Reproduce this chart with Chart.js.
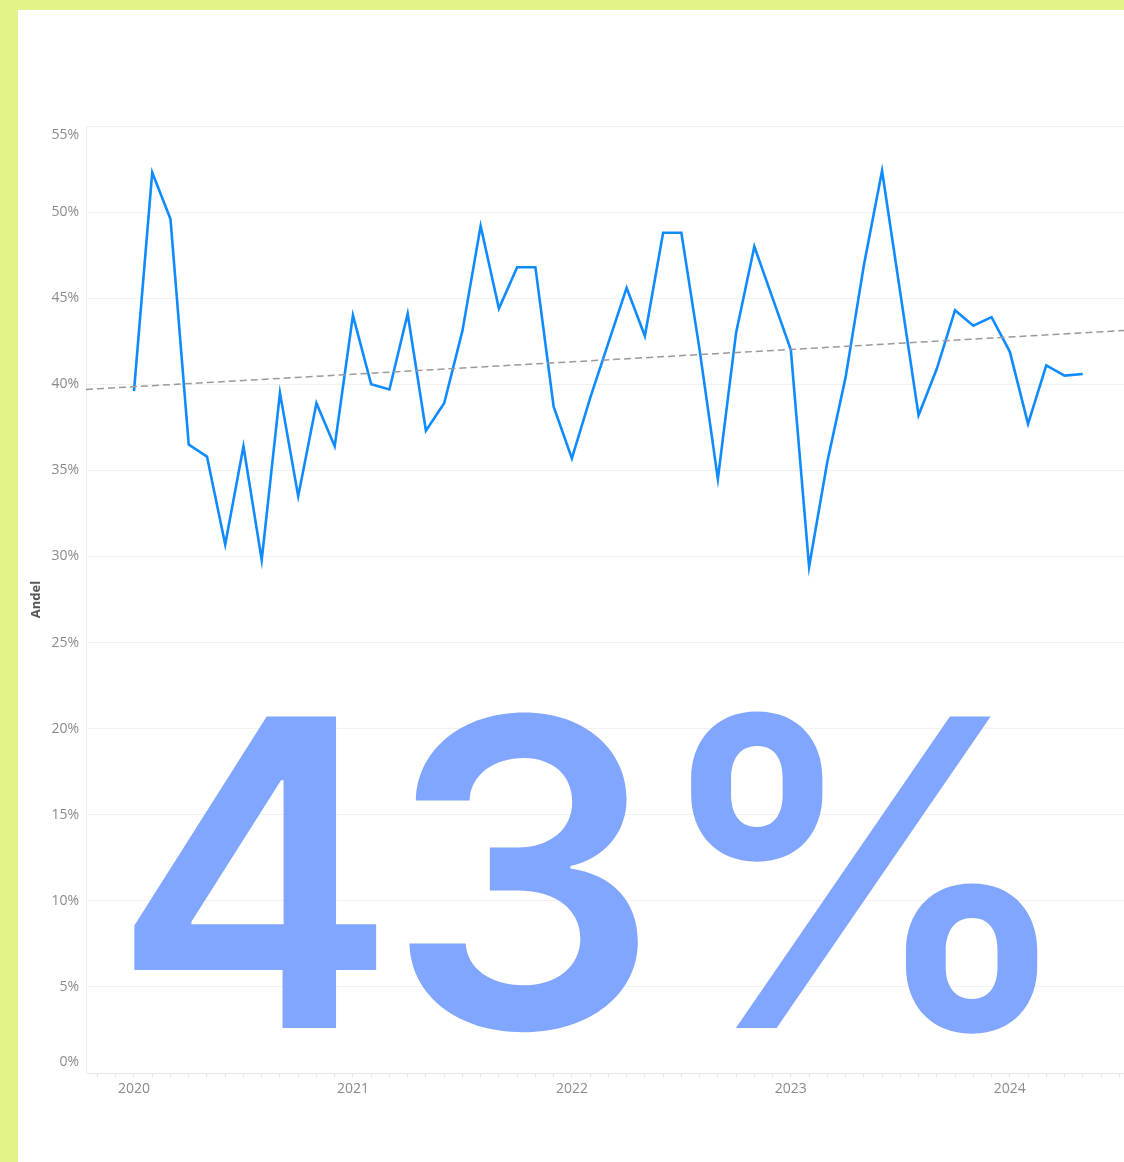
<!DOCTYPE html>
<html>
<head>
<meta charset="utf-8">
<script src="https://cdn.jsdelivr.net/npm/chart.js@4.4.1/dist/chart.umd.min.js"></script>
<style>
  html, body { margin: 0; padding: 0; width: 1124px; height: 1162px; overflow: hidden; background: #e4f388; }
  #panel { position: absolute; left: 18px; top: 10px; width: 1160px; height: 1152px; background: #fff; }
  #panel canvas { display: block; }
</style>
</head>
<body>
<div id="panel"><canvas id="chart" width="1160" height="1152"></canvas></div>
<script>
// monthly share, Jan 2020 .. May 2024
var months = [
  '2020-01','2020-02','2020-03','2020-04','2020-05','2020-06','2020-07','2020-08','2020-09','2020-10','2020-11','2020-12',
  '2021-01','2021-02','2021-03','2021-04','2021-05','2021-06','2021-07','2021-08','2021-09','2021-10','2021-11','2021-12',
  '2022-01','2022-02','2022-03','2022-04','2022-05','2022-06','2022-07','2022-08','2022-09','2022-10','2022-11','2022-12',
  '2023-01','2023-02','2023-03','2023-04','2023-05','2023-06','2023-07','2023-08','2023-09','2023-10','2023-11','2023-12',
  '2024-01','2024-02','2024-03','2024-04','2024-05'
];
var andel = [
  39.6, 52.3, 49.6, 36.5, 35.8, 30.7, 36.4, 29.8, 39.5, 33.5, 38.9, 36.4,
  44.0, 40.0, 39.7, 44.1, 37.3, 38.9, 43.1, 49.2, 44.4, 46.8, 46.8, 38.7,
  35.7, 39.2, 42.4, 45.6, 42.8, 48.8, 48.8, 42.0, 34.5, 43.0, 48.0, 45.0,
  42.0, 29.4, 35.5, 40.4, 46.9, 52.4, 45.3, 38.2, 40.9, 44.3, 43.4, 43.9,
  41.9, 37.7, 41.1, 40.5, 40.6
];
// trend line ends (months from Jan 2020, percent)
var trendMonths = [-2.63, 57.2];
var trendValues = [39.7, 43.3];
var yTicks = [0, 5, 10, 15, 20, 25, 30, 35, 40, 45, 50, 55];
var headline = '43%';

var baseYear = 2020;
function monthIndex(s) {
  var p = s.split('-');
  return (parseInt(p[0], 10) - baseYear) * 12 + parseInt(p[1], 10) - 1;
}

var series = months.map(function(m, i) { return { x: monthIndex(m), y: andel[i] }; });
var trend = trendMonths.map(function(m, i) { return { x: m, y: trendValues[i] }; });

var tickFont = { family: 'Open Sans', size: 14 };
var tickColor = '#8a8a8a';

// y labels drawn by hand so the end labels stay inside the plot
var yLabels = {
  id: 'yLabels',
  afterDraw: function(chart) {
    var s = chart.scales.y, ctx = chart.ctx;
    ctx.save();
    ctx.font = tickFont.size + 'px ' + tickFont.family;
    ctx.fillStyle = tickColor;
    ctx.textAlign = 'right';
    ctx.textBaseline = 'middle';
    yTicks.forEach(function(v) {
      var y = s.getPixelForValue(v);
      y = Math.max(s.top + 9, Math.min(s.bottom - 11, y));
      ctx.fillText(v + '%', s.right - 7, y);
    });
    ctx.restore();
  }
};

var bigNumber = {
  id: 'bigNumber',
  afterDraw: function(chart) {
    var ctx = chart.ctx;
    ctx.save();
    ctx.font = '600 428px Inter';
    ctx.letterSpacing = '-10px';
    ctx.fillStyle = '#80a6ff';
    ctx.textBaseline = 'alphabetic';
    ctx.textAlign = 'left';
    ctx.fillText(headline, 94, 1018);
    ctx.restore();
  }
};

new Chart(document.getElementById('chart'), {
  type: 'line',
  data: {
    datasets: [
      {
        label: 'Trend',
        data: trend,
        borderColor: '#9a9a9a',
        borderWidth: 1.5,
        borderDash: [7, 4],
        pointRadius: 0,
        order: 0
      },
      {
        label: 'Andel',
        data: series,
        borderColor: '#0f8bff',
        borderWidth: 2.6,
        pointRadius: 0,
        tension: 0,
        order: 1
      }
    ]
  },
  options: {
    responsive: false,
    animation: false,
    layout: { padding: { top: 116, left: 0, right: 0, bottom: 0 } },
    plugins: { legend: { display: false }, tooltip: { enabled: false } },
    scales: {
      x: {
        type: 'linear',
        min: trendMonths[0],
        max: trendMonths[1],
        afterBuildTicks: function(s) {
          var t = [];
          for (var m = Math.ceil(s.min); m <= Math.floor(s.max); m++) t.push({ value: m });
          s.ticks = t;
        },
        afterFit: function(s) { s.height = 89; },
        ticks: {
          autoSkip: false,
          maxRotation: 0,
          padding: 4,
          font: tickFont,
          color: tickColor,
          callback: function(v) { return v % 12 === 0 ? String(baseYear + v / 12) : ''; }
        },
        grid: { drawOnChartArea: false, drawTicks: true, tickLength: 4, color: '#e4e4e4' },
        border: { display: true, color: '#e6e6e6' }
      },
      y: {
        min: 0,
        max: 55,
        ticks: { stepSize: 5, display: false },
        afterFit: function(s) { s.width = 68; },
        grid: { color: '#f1f1f1', drawTicks: false },
        border: { display: true, color: '#eeeeee' },
        title: {
          display: true,
          text: 'Andel',
          color: '#555',
          font: { family: 'Open Sans', size: 13, weight: 'bold' },
          padding: { top: 10 }
        }
      }
    }
  },
  plugins: [yLabels, bigNumber]
});
</script>
</body>
</html>
